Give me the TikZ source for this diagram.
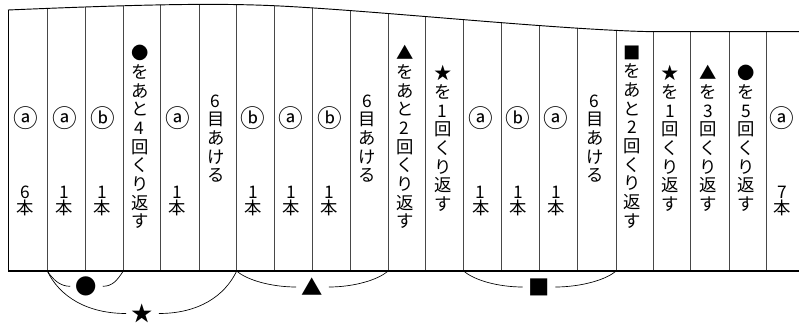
\documentclass[tikz,border=0pt]{standalone}
\usepackage{fontspec}
\setmainfont{Noto Sans CJK JP}
\begin{document}
\begin{tikzpicture}[x=0.75pt,y=-0.75pt,
  vline/.style={draw=black!72, line width=0.55pt},
  outline/.style={draw=black, line width=0.7pt},
  lbl/.style={font=\fontsize{18.5}{18.5}\selectfont, inner sep=0pt},
  vtext/.style={font=\fontsize{13}{14}\selectfont, align=center, inner sep=0pt},
  cnt/.style={font=\fontsize{13}{12.4}\selectfont, align=center, inner sep=0pt},
  sym/.style={font=\fontsize{16}{16}\selectfont, inner ysep=0pt, inner xsep=4pt},
  brk/.style={draw=black, line width=0.5pt}]
\useasboundingbox (0,0) rectangle (799,325);
\foreach \x [count=\i from 0] in {8,47.3,85.7,123.3,160.3,199,236.7,274,312.3,350.7,388,425.7,463.7,501.7,539,577.7,616,653.3,690.7,729.3,766.7}
  \coordinate (b\i) at (\x,271);
\begin{scope}
\clip (8,10) .. controls (150,4) and (220,3) .. (280,6) .. controls (380,11) and (560,30) .. (653,31.7) -- (800,31.7) -- (800,271) -- (8,271) -- cycle;
\foreach \i in {1,...,20} \draw[vline] (b\i) -- ++(0,-280);
\end{scope}
\draw[outline] (8,10) .. controls (150,4) and (220,3) .. (280,6) .. controls (380,11) and (560,30) .. (653,31.7) -- (799,31.7);
\draw[outline] (b0) -- (8,10);
\draw[draw=black, line width=0.95pt] (b0) -- (799,271);
% circled letters
\foreach \x/\t/\n in {25.6/ⓐ/1,64.5/ⓐ/2,102.5/ⓑ/3,177.6/ⓐ/5,253.3/ⓑ/7,291.1/ⓐ/8,329.5/ⓑ/9,480.7/ⓐ/13,518.3/ⓑ/14,556.3/ⓐ/15,782/ⓐ/21}
  \node[lbl] (ab\n) at (\x,118) {\t};
% counts
\foreach \x/\t/\n in {25.6/6/1,64.5/1/2,102.5/1/3,177.6/1/5,253.3/1/7,291.1/1/8,329.5/1/9,480.7/1/13,518.3/1/14,556.3/1/15,782/7/21}
  \node[cnt] (n\n) at (\x,201) {\t\\本};
% vertical texts
\node[vtext] (t4) at (139.8,137) {●\\を\\あ\\と\\4\\回\\く\\り\\返\\す};
\node[vtext] (t6) at (215.8,138.5) {6\\目\\あ\\け\\る};
\node[vtext] (t10) at (367.3,138.5) {6\\目\\あ\\け\\る};
\node[vtext] (t11) at (404.8,137) {▲\\を\\あ\\と\\2\\回\\く\\り\\返\\す};
\node[vtext] (t12) at (442.7,138.5) {★\\を\\1\\回\\く\\り\\返\\す};
\node[vtext] (t16) at (594.8,138.5) {6\\目\\あ\\け\\る};
\node[vtext] (t17) at (632.6,137) {■\\を\\あ\\と\\2\\回\\く\\り\\返\\す};
\node[vtext] (t18) at (670,138.5) {★\\を\\1\\回\\く\\り\\返\\す};
\node[vtext] (t19) at (708,138.5) {▲\\を\\3\\回\\く\\り\\返\\す};
\node[vtext] (t20) at (746,138.5) {●\\を\\5\\回\\く\\り\\返\\す};
% bracket symbols
\node[sym] (cir) at (86.5,286.3) {●};
\node[sym] (star) at (142.5,313.5) {★};
\node[sym] (tri) at (312.5,287) {▲};
\node[sym] (sq) at (539,287) {■};
% brackets
\draw[brk] (b1) .. controls +(6,9) and +(-10,0) .. (cir.west);
\draw[brk] (cir.east) .. controls +(10,0) and +(-6,9) .. (b3);
\draw[brk] (b1) .. controls +(12,25) and +(-40,0) .. (star.west);
\draw[brk] (star.east) .. controls +(40,0) and +(-12,25) .. (b6);
\draw[brk] (b6) .. controls +(10,9) and +(-25,0) .. (tri.west);
\draw[brk] (tri.east) .. controls +(25,0) and +(-10,9) .. (b10);
\draw[brk] (b12) .. controls +(10,9) and +(-25,0) .. (sq.west);
\draw[brk] (sq.east) .. controls +(25,0) and +(-10,9) .. (b16);
\end{tikzpicture}
\end{document}
